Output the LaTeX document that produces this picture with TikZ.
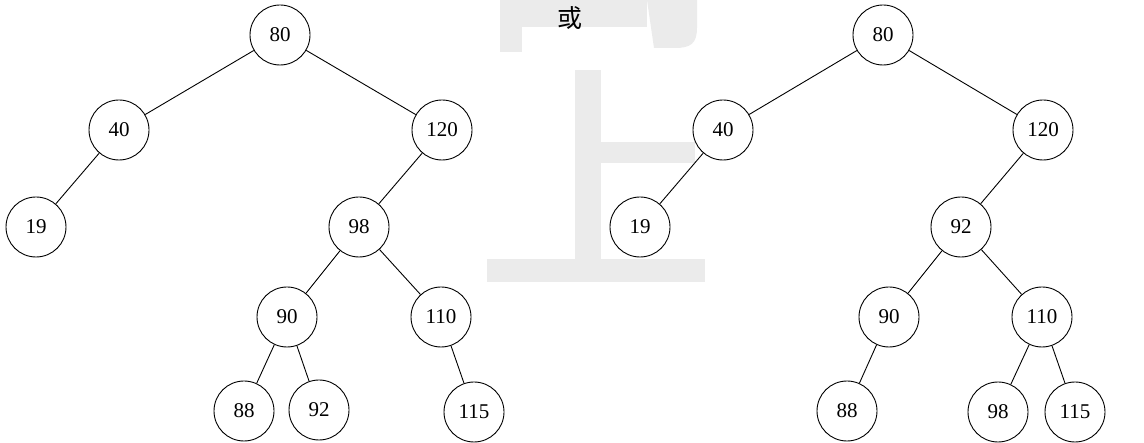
\documentclass[tikz,border=0pt]{standalone}
\usepackage{fontspec}
\setmainfont{Liberation Serif}
\newfontfamily\cjk{Noto Sans CJK SC}

\tikzset{
	treenode/.style={circle, draw, line width=0.9pt, minimum size=60pt, inner sep=0pt, font=\fontsize{21}{24}\selectfont},
	edge/.style={line width=0.9pt},
	wmark/.style={fill=black!8, draw=none}
}

\begin{document}
\begin{tikzpicture} [x=1pt, y=-1pt]

			\useasboundingbox (0,0) rectangle (1144,443);

			% light grey mark in the background
			\fill [wmark] (500,0) rectangle (522,52);
			\fill [wmark] (522,0) rectangle (647,27);
			\fill [wmark] (647,0) -- (697,0) -- (697,28) .. controls (697,44) and (690,48) .. (675,48) -- (654,48) -- cycle;
			\fill [wmark] (575,70) rectangle (601,260);
			\fill [wmark] (601,142) rectangle (695,163);
			\fill [wmark] (487,259) rectangle (705,282);

			\node (or) at (570,18) {\cjk\fontsize{25}{27}\selectfont 或};

			% first tree
			\node [treenode] (l80) at (280,35) {80};
			\node [treenode] (l40) at (119,130) {40};
			\node [treenode] (l120) at (442,130) {120};
			\node [treenode] (l19) at (36,227) {19};
			\node [treenode] (l98) at (359,227) {98};
			\node [treenode] (l90) at (287,317) {90};
			\node [treenode] (l110) at (441,317) {110};
			\node [treenode] (l88) at (244,411) {88};
			\node [treenode] (l92) at (319,410) {92};
			\node [treenode] (l115) at (474,412) {115};

			% second tree
			\node [treenode] (r80) at (883,35) {80};
			\node [treenode] (r40) at (723,130) {40};
			\node [treenode] (r120) at (1043,130) {120};
			\node [treenode] (r19) at (640,227) {19};
			\node [treenode] (r92) at (961,227) {92};
			\node [treenode] (r90) at (889,317) {90};
			\node [treenode] (r110) at (1042,317) {110};
			\node [treenode] (r88) at (847,411) {88};
			\node [treenode] (r98) at (998,412) {98};
			\node [treenode] (r115) at (1075,412) {115};

			\foreach \a/\b in {l80/l40, l80/l120, l40/l19, l120/l98, l98/l90, l98/l110, l90/l88, l90/l92, l110/l115,
				r80/r40, r80/r120, r40/r19, r120/r92, r92/r90, r92/r110, r90/r88, r110/r98, r110/r115}
				\draw [edge] (\a) -- (\b);
		\end{tikzpicture}
\end{document}
